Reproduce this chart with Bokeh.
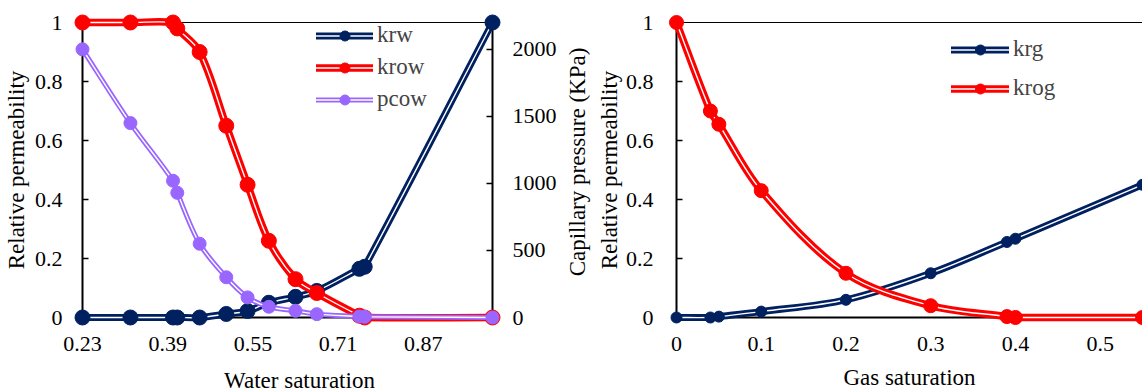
import math
import numpy as np
from bokeh.plotting import figure
from bokeh.models import (ColumnDataSource, Range1d, LinearAxis, FixedTicker,
                          Legend, LegendItem)
from bokeh.core.properties import value
from bokeh.layouts import row
from bokeh.embed import file_html
from bokeh.resources import INLINE

# ---------------- data: water-oil ----------------
sw = [0.23, 0.32, 0.40, 0.408, 0.45, 0.50, 0.54, 0.58, 0.63, 0.67, 0.75, 0.76, 1.0]
krw = [0, 0, 0, 0, 0, 0.012, 0.022, 0.05, 0.07, 0.09, 0.165, 0.172, 1.0]
krow = [1, 1, 1, 0.98, 0.9, 0.65, 0.45, 0.26, 0.13, 0.083, 0.006, 0, 0]
pcow = [2000, 1450, 1020, 930, 550, 300, 150, 80, 50, 25, 8, 5, 0]

sw_ticks = [0.23, 0.39, 0.55, 0.71, 0.87]
sw_tick_labels = ["0.23", "0.39", "0.55", "0.71", "0.87"]
kr_ticks = [0, 0.2, 0.4, 0.6, 0.8, 1]
kr_tick_labels = ["0", "0.2", "0.4", "0.6", "0.8", "1"]
pc_ticks = [0, 500, 1000, 1500, 2000]
pc_tick_labels = ["0", "500", "1000", "1500", "2000"]

# ---------------- data: gas-oil ----------------
sg = [0, 0.04, 0.05, 0.10, 0.20, 0.30, 0.39, 0.40, 0.55]
krg = [0, 0, 0.003, 0.02, 0.06, 0.15, 0.256, 0.267, 0.45]
krog = [1, 0.70, 0.655, 0.43, 0.15, 0.04, 0.003, 0, 0]

sg_ticks = [0, 0.1, 0.2, 0.3, 0.4, 0.5]
sg_tick_labels = ["0", "0.1", "0.2", "0.3", "0.4", "0.5"]

NAVY = "#002060"
RED = "#FF0000"
PURPLE = "#9966FF"
FONT = "Liberation Serif"

# frame size of the left chart in pixels (used to place its axis titles)
F1W, F1H = 410, 295


def smooth(x, y, sx, sy):
    """Bezier control points for a smoothed line through the data points."""
    x = np.asarray(x, float) * sx
    y = np.asarray(y, float) * sy
    n = len(x)
    xp = np.r_[x[0], x, x[-1]]
    yp = np.r_[y[0], y, y[-1]]
    ld = np.hypot(np.diff(xp), np.diff(yp))
    tx = xp[2:] - xp[:-2]
    ty = yp[2:] - yp[:-2]
    a = ld[1:n]
    b = ld[0:n - 1]
    c = ld[2:n + 1]
    r0 = np.where(a + b > 0, a / np.where(a + b > 0, a + b, 1), 0)
    r1 = np.where(a + c > 0, a / np.where(a + c > 0, a + c, 1), 0)
    cx0 = x[:-1] + tx[:-1] / 3 * r0
    cy0 = y[:-1] + ty[:-1] / 3 * r0
    cx1 = x[1:] - tx[1:] / 3 * r1
    cy1 = y[1:] - ty[1:] / 3 * r1
    return dict(x0=x[:-1] / sx, y0=y[:-1] / sy, x1=x[1:] / sx, y1=y[1:] / sy,
                cx0=cx0 / sx, cy0=cy0 / sy, cx1=cx1 / sx, cy1=cy1 / sy)


def series(p, x, y, color, lw, msize, sx, sy, rng=None):
    kw = dict(level="overlay")
    if rng is not None:
        kw["y_range_name"] = rng
    src = ColumnDataSource(smooth(x, y, sx, sy))
    bz = dict(x0="x0", y0="y0", x1="x1", y1="y1", cx0="cx0", cy0="cy0",
              cx1="cx1", cy1="cy1", source=src)
    r1 = p.bezier(line_color=color, line_width=lw, line_cap="round", **bz, **kw)
    r2 = p.bezier(line_color="white", line_width=1.4, line_cap="round", **bz, **kw)
    r3 = p.scatter(x=x, y=y, size=msize, marker="circle", fill_color=color,
                   line_color=color, line_width=1, **kw)
    return [r1, r2, r3]


def style_axis(ax, ticks, labels, standoff):
    ax.ticker = FixedTicker(ticks=ticks)
    ax.major_label_overrides = {t: l for t, l in zip(ticks, labels)}
    ax.axis_line_width = 2
    ax.axis_line_color = "black"
    ax.major_tick_line_color = "black"
    ax.major_tick_line_width = 1.5
    ax.major_tick_in = 6
    ax.major_tick_out = 0
    ax.minor_tick_line_color = None
    ax.major_label_text_font = FONT
    ax.major_label_text_font_size = "22px"
    ax.major_label_text_color = "black"
    ax.major_label_standoff = standoff
    ax.axis_label_text_font = FONT
    ax.axis_label_text_font_size = "23px"
    ax.axis_label_text_font_style = "normal"
    ax.axis_label_text_color = "black"


def top_line(p):
    ax = LinearAxis(ticker=FixedTicker(ticks=[]), axis_line_width=1,
                    axis_line_color="black", major_tick_line_color=None,
                    minor_tick_line_color=None, major_label_text_font_size="0px",
                    major_label_standoff=0)
    p.add_layout(ax, "above")


def title_text(p, x, y, text, angle):
    p.text(x=[x], y=[y], text=[text], angle=angle, text_align="center",
           text_baseline="middle", text_font=value(FONT), text_font_size="23px",
           text_color="black", x_range_name="px", y_range_name="py",
           level="overlay")


# ---------------- left chart ----------------
p1 = figure(width=593, height=392, output_backend="svg", toolbar_location=None,
            x_range=Range1d(0.23, 1.0), y_range=Range1d(0, 1),
            min_border_left=82, min_border_right=101, min_border_top=22,
            min_border_bottom=75)
p1.outline_line_color = None
p1.xgrid.visible = False
p1.ygrid.visible = False
p1.extra_y_ranges = {"cap": Range1d(0, 2200), "py": Range1d(0, F1H)}
p1.extra_x_ranges = {"px": Range1d(0, F1W)}

style_axis(p1.xaxis[0], sw_ticks, sw_tick_labels, 19)
p1.xaxis[0].major_tick_in = 0
style_axis(p1.yaxis[0], kr_ticks, kr_tick_labels, 20)
p1.yaxis[0].axis_label = "Relative permeability"
p1.yaxis[0].axis_label_standoff = 3
ax_r = LinearAxis(y_range_name="cap")
style_axis(ax_r, pc_ticks, pc_tick_labels, 20)
p1.add_layout(ax_r, "right")
top_line(p1)

# axis titles placed like the reference (secondary title reads bottom-to-top)
title_text(p1, F1W + 85, F1H / 2 + 8, "Capillary pressure (KPa)", math.pi / 2)
title_text(p1, F1W / 2 + 12, -63, "Water saturation", 0)

sx1 = F1W / 0.77
r_krw = series(p1, sw, krw, NAVY, 7, 15, sx1, F1H)
r_krow = series(p1, sw, krow, RED, 7.5, 15, sx1, F1H)
r_pcow = series(p1, sw, pcow, PURPLE, 5, 13, sx1, F1H / 2200, rng="cap")

leg1 = Legend(items=[LegendItem(label="krw", renderers=r_krw),
                     LegendItem(label="krow", renderers=r_krow),
                     LegendItem(label="pcow", renderers=r_pcow)],
              location=(234, 205), padding=0, margin=0, spacing=6,
              glyph_width=57, glyph_height=25, label_height=25, label_standoff=4,
              label_text_font=FONT, label_text_font_size="23px",
              border_line_color=None, background_fill_alpha=0)
p1.add_layout(leg1)

# ---------------- right chart ----------------
p2 = figure(width=549, height=392, output_backend="svg", toolbar_location=None,
            x_range=Range1d(0, 0.55), y_range=Range1d(0, 1),
            min_border_left=82, min_border_right=0, min_border_top=20,
            min_border_bottom=75)
p2.outline_line_color = None
p2.xgrid.visible = False
p2.ygrid.visible = False
style_axis(p2.xaxis[0], sg_ticks, sg_tick_labels, 19)
p2.xaxis[0].major_tick_in = 0
p2.xaxis[0].axis_label = "Gas saturation"
p2.xaxis[0].axis_label_standoff = 11
p2.xaxis[0].axis_label_text_line_height = 1.0
style_axis(p2.yaxis[0], kr_ticks, kr_tick_labels, 23)
p2.yaxis[0].axis_label = "Relative permeability"
p2.yaxis[0].axis_label_standoff = 1
top_line(p2)

sx2 = 467 / 0.55
r_krg = series(p2, sg, krg, NAVY, 7, 11, sx2, 297)
r_krog = series(p2, sg, krog, RED, 7.5, 14, sx2, 297)

leg2 = Legend(items=[LegendItem(label="krg", renderers=r_krg),
                     LegendItem(label="krog", renderers=r_krog)],
              location=(275, 216), padding=0, margin=0, spacing=13,
              glyph_width=58, glyph_height=25, label_height=25, label_standoff=4,
              label_text_font=FONT, label_text_font_size="23px",
              border_line_color=None, background_fill_alpha=0)
p2.add_layout(leg2)

layout = row(p1, p2)
open("out.html", "w").write(file_html(layout, INLINE))
